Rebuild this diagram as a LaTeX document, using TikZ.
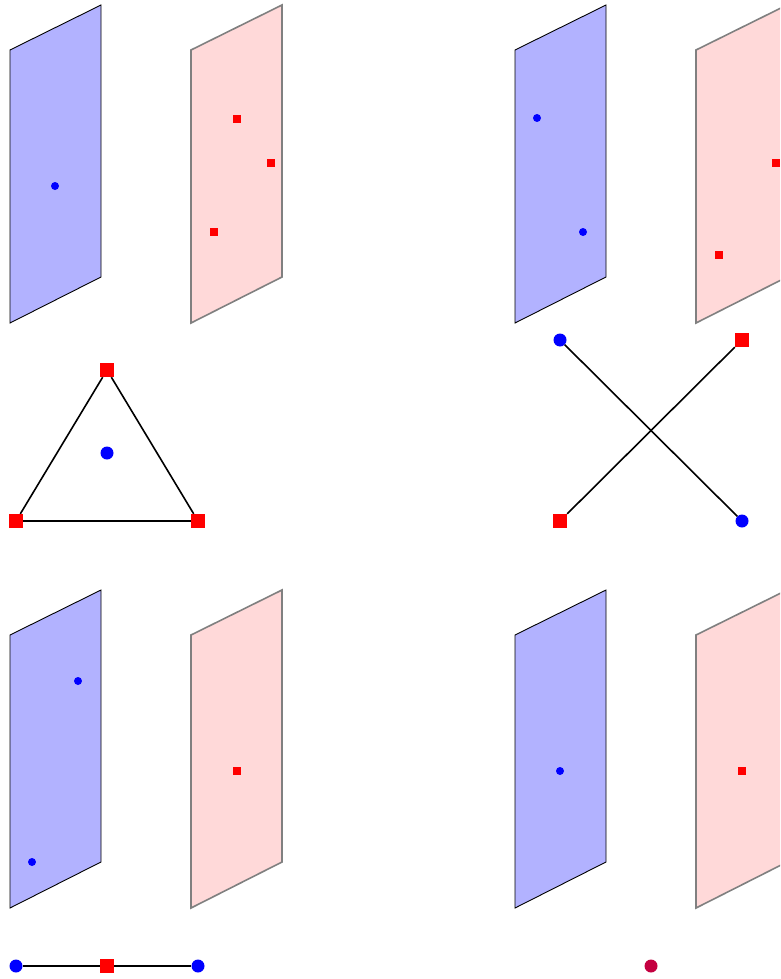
\documentclass[tikz,border=0pt]{standalone}
\usepackage{xcolor}
\usepackage{tikz}
\definecolor{planeb}{RGB}{178,178,255}
\definecolor{planer}{RGB}{255,217,217}
\definecolor{mixc}{RGB}{196,0,64}

\begin{document}
\begin{tikzpicture}[x=1pt,y=-1pt,
  bdot/.style={circle,fill=blue,inner sep=0pt,minimum size=13pt},
  rsq/.style={rectangle,fill=red,inner sep=0pt,minimum size=14pt},
  sdot/.style={circle,fill=blue,inner sep=0pt,minimum size=8pt},
  ssq/.style={rectangle,fill=red,inner sep=0pt,minimum size=8pt},
  link/.style={black,line width=1.6pt}]
  \useasboundingbox (0,0) rectangle (780,979);
  \clip (0,0) rectangle (780,979);
  % ---- planes ----
  \foreach \x/\y in {10/0, 515/0, 10/585, 515/585}{
    \filldraw[fill=planeb,draw=black,line width=0.9pt]
        (\x,\y+50) -- (\x+91,\y+5) -- (\x+91,\y+277) -- (\x,\y+323) -- cycle;
    \filldraw[fill=planer,draw=gray,line width=1.6pt]
        (\x+181,\y+50) -- (\x+272,\y+5) -- (\x+272,\y+277) -- (\x+181,\y+323) -- cycle;}
  % ---- top left: one blue, three red ----
  \node[sdot] (tlb) at (55,186) {};
  \node[ssq] (tlr1) at (237,119) {};
  \node[ssq] (tlr2) at (271,163) {};
  \node[ssq] (tlr3) at (214,232) {};
  \node[rsq] (tri1) at (107,370) {};
  \node[rsq] (tri2) at (16,521) {};
  \node[rsq] (tri3) at (198,521) {};
  \node[bdot] (tric) at (107,453) {};
  \draw[link] (tri1) -- (tri2) -- (tri3) -- (tri1);
  % ---- top right: two blue, two red ----
  \node[sdot] (trb1) at (537,118) {};
  \node[sdot] (trb2) at (583,232) {};
  \node[ssq] (trr1) at (776,163) {};
  \node[ssq] (trr2) at (719,255) {};
  \node[bdot] (xb1) at (560,340) {};
  \node[rsq] (xr1) at (742,340) {};
  \node[rsq] (xr2) at (560,521) {};
  \node[bdot] (xb2) at (742,521) {};
  \draw[link] (xb1) -- (xb2);
  \draw[link] (xr1) -- (xr2);
  % ---- bottom left: two blue, one red ----
  \node[sdot] (blb1) at (78,681) {};
  \node[sdot] (blb2) at (32,862) {};
  \node[ssq] (blr) at (237,771) {};
  \node[bdot] (lb1) at (16,966) {};
  \node[rsq] (lr) at (107,966) {};
  \node[bdot] (lb2) at (198,966) {};
  \draw[link] (lb1) -- (lr) -- (lb2);
  % ---- bottom right: one blue, one red ----
  \node[sdot] (brb) at (560,771) {};
  \node[ssq] (brr) at (742,771) {};
  \node[bdot,fill=mixc] (mix) at (651,966) {};
\end{tikzpicture}
\end{document}
